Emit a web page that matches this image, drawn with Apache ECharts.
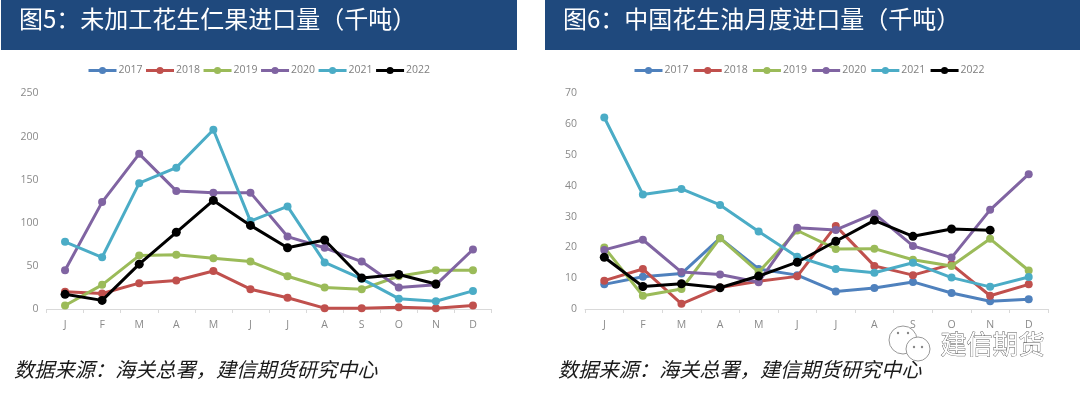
<!DOCTYPE html>
<html><head><meta charset="utf-8">
<style>html,body{margin:0;padding:0;background:#fff}#c{width:1080px;height:394px}</style>
<script src="https://cdn.jsdelivr.net/npm/echarts@6/dist/echarts.min.js"></script>
</head><body><div id="c"></div>
<script>
const months=['J','F','M','A','M','J','J','A','S','O','N','D'];
const years=['2017','2018','2019','2020','2021','2022'];
const colors=['#4f81bd','#c0504d','#9bbb59','#8064a2','#4bacc6','#000000'];
const kernel2017=[null,null,null,null,null,null,null,null,null,null,null,null];
const kernel2018=[20,18,30,33,44,23,13,1,1,2,1,4];
const kernel2019=[4,28,62,63,59,55,38,25,23,38,45,45];
const kernel2020=[45,124,180,137,135,135,84,71,55,25,28,69];
const kernel2021=[78,60,146,164,208,102,119,54,35,12,9,21];
const kernel2022=[17,10,52,89,126,97,71,80,36,40,29,null];
const oil2017=[8,10.5,11.5,23,13,11,5.7,6.8,8.8,5.2,2.5,3.2];
const oil2018=[9.2,13,1.7,7,9,10.6,27,14,11,14.5,4.3,8];
const oil2019=[20,4.3,6.5,23,12,25.5,19.5,19.6,16,14,22.8,12.5];
const oil2020=[19.2,22.5,12,11.2,8.7,26.4,25.7,31,20.5,16.7,32.2,43.8];
const oil2021=[62.2,37.2,39,33.8,25.2,17,13,11.8,15,10.2,7.2,10.4];
const oil2022=[16.8,7.3,8.2,6.9,10.7,15.2,22,28.8,23.6,26,25.6,null];
const leftTitle='图5\uFF1A未加工花生仁果进口量\uFF08千吨\uFF09';
const rightTitle='图6\uFF1A中国花生油月度进口量\uFF08千吨\uFF09';
const sourceText='数据来源\uFF1A海关总署\uFF0C建信期货研究中心';
const brand='建信期货';
const kernel=[kernel2017,kernel2018,kernel2019,kernel2020,kernel2021,kernel2022];
const oil=[oil2017,oil2018,oil2019,oil2020,oil2021,oil2022];
const cjk='"Noto Sans CJK SC",sans-serif';
const latin='"Open Sans","Noto Sans",sans-serif';
const mk=(data,g)=>data.map((d,i)=>({
  name:years[i],type:'line',xAxisIndex:g,yAxisIndex:g,data:d,
  symbol:'circle',symbolSize:i===5?9:8,smooth:false,connectNulls:false,z:i===5?5:2+i*0.1,
  lineStyle:{color:colors[i],width:3},itemStyle:{color:colors[i]},emphasis:{disabled:true},animation:false
}));
const xa=(g)=>({type:'category',gridIndex:g,data:months,boundaryGap:true,
  axisLine:{lineStyle:{color:'#d9d9d9',width:1}},axisTick:{show:true,alignWithLabel:false,length:4,lineStyle:{color:'#d9d9d9'}},
  axisLabel:{interval:0,color:'#8a8a8a',fontSize:10.5,fontFamily:latin,margin:11},splitLine:{show:false}});
const ya=(g,max,iv)=>({type:'value',gridIndex:g,min:0,max:max,interval:iv,
  axisLine:{show:false},axisTick:{show:false},splitLine:{show:false},
  axisLabel:{color:'#8a8a8a',fontSize:10.5,fontFamily:latin,margin:8}});
const leg=(left,gap)=>({show:true,top:60,left:left,itemWidth:28,itemHeight:9,itemGap:gap,
  data:years,lineStyle:{width:3},
  textStyle:{color:'#7f7f7f',fontSize:10.5,fontFamily:latin,padding:[0,0,0,-3]},selectedMode:false});
const chart=echarts.init(document.getElementById('c'),null,{renderer:'canvas'});
chart.setOption({
  animation:false,backgroundColor:'#fff',
  title:[
    {text:leftTitle,left:14,top:2,textStyle:{color:'#fff',fontSize:24,fontWeight:'normal',fontFamily:cjk}},
    {text:rightTitle,left:558,top:2,textStyle:{color:'#fff',fontSize:24,fontWeight:'normal',fontFamily:cjk}}
  ],
  legend:[leg(82,2),leg(628,3.7)],
  grid:[
    {left:46.5,top:93.5,width:445,height:215.5,containLabel:false},
    {left:585,top:93.5,width:463,height:215.5,containLabel:false}
  ],
  xAxis:[xa(0),xa(1)],
  yAxis:[ya(0,250,50),ya(1,70,10)],
  series:[...mk(kernel,0),...mk(oil,1)],
  graphic:[
    {type:'rect',z:-1,shape:{x:1,y:0,width:516,height:50},style:{fill:'#1f497d'}},
    {type:'rect',z:-1,shape:{x:545,y:0,width:535,height:50},style:{fill:'#1f497d'}},
    {type:'text',left:14,top:359,style:{text:sourceText,fill:'#1a1a1a',font:'italic 20.2px '+cjk}},
    {type:'text',left:558,top:359,style:{text:sourceText,fill:'#1a1a1a',font:'italic 20.2px '+cjk}},
    {type:'circle',shape:{cx:903,cy:340,r:14},style:{fill:'rgba(255,255,255,0.5)',stroke:'#999',lineWidth:1}},
    {type:'circle',shape:{cx:918,cy:349,r:12},style:{fill:'#fff',stroke:'#999',lineWidth:1}},
    {type:'circle',shape:{cx:914,cy:347,r:1.2},style:{fill:'#888'}},
    {type:'circle',shape:{cx:922,cy:347,r:1.2},style:{fill:'#888'}},
    {type:'circle',shape:{cx:898,cy:333,r:1.2},style:{fill:'#888'}},
    {type:'circle',shape:{cx:908,cy:333,r:1.2},style:{fill:'#888'}},
    {type:'text',left:940,top:331,style:{text:brand,fill:'#fff',stroke:'#555',lineWidth:0.8,font:'26px '+cjk}}
  ]
});
</script></body></html>
